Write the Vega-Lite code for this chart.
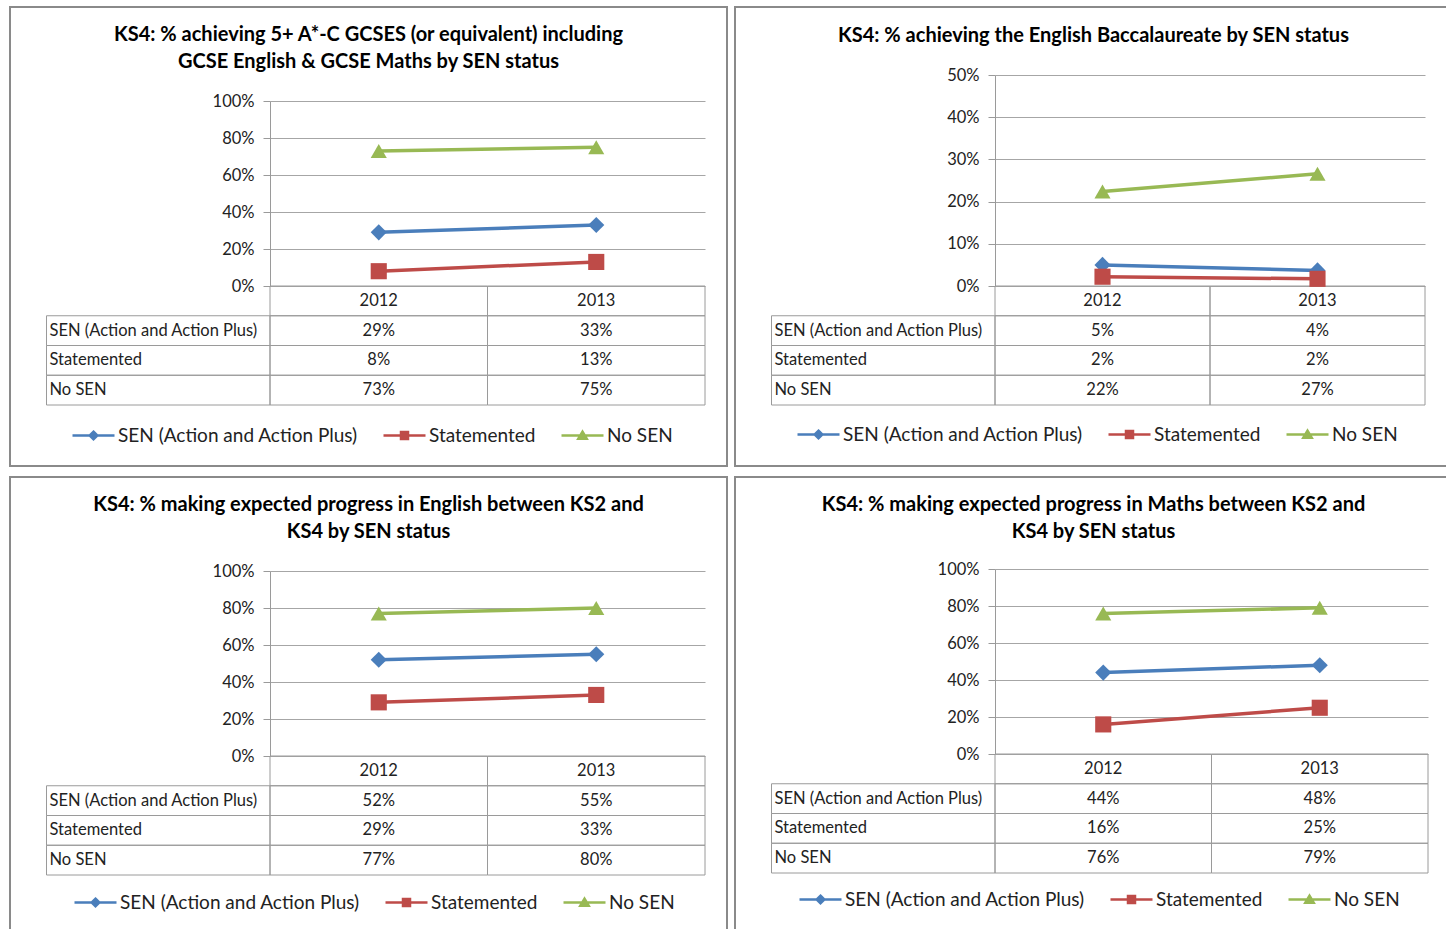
{
  "$schema": "https://vega.github.io/schema/vega-lite/v6.json",
  "background": "white",
  "padding": {"left": 9, "top": 6, "right": 0, "bottom": 0},
  "spacing": 9,
  "datasets": {
    "gcse": [
      {"series": "SEN (Action and Action Plus)", "year": "2012", "value": 0.29},
      {"series": "SEN (Action and Action Plus)", "year": "2013", "value": 0.33},
      {"series": "Statemented", "year": "2012", "value": 0.08},
      {"series": "Statemented", "year": "2013", "value": 0.13},
      {"series": "No SEN", "year": "2012", "value": 0.73},
      {"series": "No SEN", "year": "2013", "value": 0.75}
    ],
    "ebacc": [
      {"series": "SEN (Action and Action Plus)", "year": "2012", "value": 0.05},
      {"series": "SEN (Action and Action Plus)", "year": "2013", "value": 0.037},
      {"series": "Statemented", "year": "2012", "value": 0.022},
      {"series": "Statemented", "year": "2013", "value": 0.017},
      {"series": "No SEN", "year": "2012", "value": 0.224},
      {"series": "No SEN", "year": "2013", "value": 0.266}
    ],
    "eng": [
      {"series": "SEN (Action and Action Plus)", "year": "2012", "value": 0.52},
      {"series": "SEN (Action and Action Plus)", "year": "2013", "value": 0.55},
      {"series": "Statemented", "year": "2012", "value": 0.29},
      {"series": "Statemented", "year": "2013", "value": 0.33},
      {"series": "No SEN", "year": "2012", "value": 0.77},
      {"series": "No SEN", "year": "2013", "value": 0.80}
    ],
    "maths": [
      {"series": "SEN (Action and Action Plus)", "year": "2012", "value": 0.44},
      {"series": "SEN (Action and Action Plus)", "year": "2013", "value": 0.48},
      {"series": "Statemented", "year": "2012", "value": 0.16},
      {"series": "Statemented", "year": "2013", "value": 0.25},
      {"series": "No SEN", "year": "2012", "value": 0.76},
      {"series": "No SEN", "year": "2013", "value": 0.79}
    ]
  },
  "vconcat": [
    {
      "spacing": 6,
      "hconcat": [
        {
          "width": 717, "height": 459,
          "data": {"name": "gcse"},
          "title": {"text": ["KS4: % achieving 5+ A*-C GCSES (or equivalent) including", "GCSE English & GCSE Maths by SEN status"], "offset": -65},
          "resolve": {"scale": {"x": "independent", "y": "independent", "fill": "independent", "stroke": "independent", "shape": "independent", "color": "independent"}},
          "layer": [
            {
              "encoding": {
                "x": {"field": "year", "type": "nominal", "scale": {"type": "band", "domain": ["2012", "2013"], "range": [260, 695], "paddingInner": 0, "paddingOuter": 0}, "axis": null},
                "y": {"field": "series", "type": "nominal", "scale": {"type": "band", "domain": ["Year", "SEN (Action and Action Plus)", "Statemented", "No SEN"], "range": [279, 398], "paddingInner": 0, "paddingOuter": 0}, "axis": null}
              },
              "layer": [
                {"mark": {"type": "rect", "filled": false, "stroke": "#9a9a9a", "strokeWidth": 1}},
                {"mark": {"type": "text"}, "encoding": {"text": {"field": "value", "type": "quantitative", "format": ".0%"}}},
                {
                  "transform": [{"aggregate": [{"op": "count", "as": "n"}], "groupby": ["year"]}],
                  "layer": [
                    {"mark": {"type": "rect", "filled": false, "stroke": "#9a9a9a", "strokeWidth": 1}, "encoding": {"y": {"datum": "Year", "type": "nominal"}}},
                    {"mark": {"type": "text"}, "encoding": {"y": {"datum": "Year", "type": "nominal"}, "text": {"field": "year", "type": "nominal"}}}
                  ]
                }
              ]
            },
            {
              "transform": [{"aggregate": [{"op": "count", "as": "n"}], "groupby": ["series"]}],
              "encoding": {
                "x": {"datum": "label", "type": "nominal", "scale": {"type": "band", "domain": ["label"], "range": [36.5, 260], "paddingInner": 0, "paddingOuter": 0}, "axis": null},
                "y": {"field": "series", "type": "nominal", "scale": {"type": "band", "domain": ["Year", "SEN (Action and Action Plus)", "Statemented", "No SEN"], "range": [279, 398], "paddingInner": 0, "paddingOuter": 0}, "axis": null}
              },
              "layer": [
                {"mark": {"type": "rect", "filled": false, "stroke": "#9a9a9a", "strokeWidth": 1}},
                {"mark": {"type": "text", "align": "left", "dx": 3}, "encoding": {"x": {"datum": "label", "type": "nominal", "bandPosition": 0}, "text": {"field": "series", "type": "nominal"}}}
              ]
            },
            {
              "transform": [{"filter": "false"}],
              "mark": {"type": "point", "filled": true},
              "encoding": {
                "fill": {"field": "series", "type": "nominal", "scale": {"domain": ["SEN (Action and Action Plus)", "Statemented", "No SEN"], "range": ["#4a7ebb", "#be4b48", "#98b954"]}, "legend": {"orient": "none", "legendX": 60, "legendY": 419, "direction": "horizontal", "title": null}},
                "stroke": {"field": "series", "type": "nominal", "scale": {"domain": ["SEN (Action and Action Plus)", "Statemented", "No SEN"], "range": ["#4a7ebb", "#be4b48", "#98b954"]}, "legend": {"orient": "none", "legendX": 60, "legendY": 419, "direction": "horizontal", "title": null}},
                "shape": {"field": "series", "type": "nominal", "scale": {"domain": ["SEN (Action and Action Plus)", "Statemented", "No SEN"], "range": ["M-1,0H5M2,-0.55L2.55,0L2,0.55L1.45,0Z", "M-1,0H5M1.5,-0.5H2.5V0.5H1.5Z", "M-1,0H5M2,-0.55L2.6,0.45H1.4Z"]}, "legend": {"orient": "none", "legendX": 60, "legendY": 419, "direction": "horizontal", "title": null}}
              }
            },
            {
              "encoding": {
                "x": {"field": "year", "type": "nominal", "scale": {"type": "point", "domain": ["2012", "2013"], "range": [260, 695], "padding": 0.5}, "axis": null},
                "y": {"field": "value", "type": "quantitative", "scale": {"domain": [0, 1], "range": [279, 94]}, "axis": {"orient": "left", "values": [0, 0.2, 0.4, 0.6, 0.8, 1], "format": ".0%", "offset": -260, "grid": true, "title": null}},
                "color": {"field": "series", "type": "nominal", "scale": {"domain": ["SEN (Action and Action Plus)", "Statemented", "No SEN"], "range": ["#4a7ebb", "#be4b48", "#98b954"]}, "legend": null}
              },
              "layer": [
                {"mark": {"type": "line", "strokeWidth": 3.5}, "encoding": {}},
                {"mark": {"type": "point", "filled": true, "size": 260, "opacity": 1}, "encoding": {"shape": {"field": "series", "type": "nominal", "scale": {"domain": ["SEN (Action and Action Plus)", "Statemented", "No SEN"], "range": ["diamond", "square", "triangle-up"]}, "legend": null}}}
              ]
            }
          ]
        },
        {
          "width": 717, "height": 459,
          "data": {"name": "ebacc"},
          "title": {"text": "KS4: % achieving the English Baccalaureate by SEN status", "offset": -39},
          "resolve": {"scale": {"x": "independent", "y": "independent", "fill": "independent", "stroke": "independent", "shape": "independent", "color": "independent"}},
          "layer": [
            {
              "encoding": {
                "x": {"field": "year", "type": "nominal", "scale": {"type": "band", "domain": ["2012", "2013"], "range": [260, 690], "paddingInner": 0, "paddingOuter": 0}, "axis": null},
                "y": {"field": "series", "type": "nominal", "scale": {"type": "band", "domain": ["Year", "SEN (Action and Action Plus)", "Statemented", "No SEN"], "range": [279, 398], "paddingInner": 0, "paddingOuter": 0}, "axis": null}
              },
              "layer": [
                {"mark": {"type": "rect", "filled": false, "stroke": "#9a9a9a", "strokeWidth": 1}},
                {"mark": {"type": "text"}, "encoding": {"text": {"field": "value", "type": "quantitative", "format": ".0%"}}},
                {
                  "transform": [{"aggregate": [{"op": "count", "as": "n"}], "groupby": ["year"]}],
                  "layer": [
                    {"mark": {"type": "rect", "filled": false, "stroke": "#9a9a9a", "strokeWidth": 1}, "encoding": {"y": {"datum": "Year", "type": "nominal"}}},
                    {"mark": {"type": "text"}, "encoding": {"y": {"datum": "Year", "type": "nominal"}, "text": {"field": "year", "type": "nominal"}}}
                  ]
                }
              ]
            },
            {
              "transform": [{"aggregate": [{"op": "count", "as": "n"}], "groupby": ["series"]}],
              "encoding": {
                "x": {"datum": "label", "type": "nominal", "scale": {"type": "band", "domain": ["label"], "range": [36.5, 260], "paddingInner": 0, "paddingOuter": 0}, "axis": null},
                "y": {"field": "series", "type": "nominal", "scale": {"type": "band", "domain": ["Year", "SEN (Action and Action Plus)", "Statemented", "No SEN"], "range": [279, 398], "paddingInner": 0, "paddingOuter": 0}, "axis": null}
              },
              "layer": [
                {"mark": {"type": "rect", "filled": false, "stroke": "#9a9a9a", "strokeWidth": 1}},
                {"mark": {"type": "text", "align": "left", "dx": 3}, "encoding": {"x": {"datum": "label", "type": "nominal", "bandPosition": 0}, "text": {"field": "series", "type": "nominal"}}}
              ]
            },
            {
              "transform": [{"filter": "false"}],
              "mark": {"type": "point", "filled": true},
              "encoding": {
                "fill": {"field": "series", "type": "nominal", "scale": {"domain": ["SEN (Action and Action Plus)", "Statemented", "No SEN"], "range": ["#4a7ebb", "#be4b48", "#98b954"]}, "legend": {"orient": "none", "legendX": 60, "legendY": 418, "direction": "horizontal", "title": null}},
                "stroke": {"field": "series", "type": "nominal", "scale": {"domain": ["SEN (Action and Action Plus)", "Statemented", "No SEN"], "range": ["#4a7ebb", "#be4b48", "#98b954"]}, "legend": {"orient": "none", "legendX": 60, "legendY": 418, "direction": "horizontal", "title": null}},
                "shape": {"field": "series", "type": "nominal", "scale": {"domain": ["SEN (Action and Action Plus)", "Statemented", "No SEN"], "range": ["M-1,0H5M2,-0.55L2.55,0L2,0.55L1.45,0Z", "M-1,0H5M1.5,-0.5H2.5V0.5H1.5Z", "M-1,0H5M2,-0.55L2.6,0.45H1.4Z"]}, "legend": {"orient": "none", "legendX": 60, "legendY": 418, "direction": "horizontal", "title": null}}
              }
            },
            {
              "encoding": {
                "x": {"field": "year", "type": "nominal", "scale": {"type": "point", "domain": ["2012", "2013"], "range": [260, 690], "padding": 0.5}, "axis": null},
                "y": {"field": "value", "type": "quantitative", "scale": {"domain": [0, 0.5], "range": [279, 68]}, "axis": {"orient": "left", "values": [0, 0.1, 0.2, 0.3, 0.4, 0.5], "format": ".0%", "offset": -260, "grid": true, "title": null}},
                "color": {"field": "series", "type": "nominal", "scale": {"domain": ["SEN (Action and Action Plus)", "Statemented", "No SEN"], "range": ["#4a7ebb", "#be4b48", "#98b954"]}, "legend": null}
              },
              "layer": [
                {"mark": {"type": "line", "strokeWidth": 3.5}, "encoding": {}},
                {"mark": {"type": "point", "filled": true, "size": 260, "opacity": 1}, "encoding": {"shape": {"field": "series", "type": "nominal", "scale": {"domain": ["SEN (Action and Action Plus)", "Statemented", "No SEN"], "range": ["diamond", "square", "triangle-up"]}, "legend": null}}}
              ]
            }
          ]
        }
      ]
    },
    {
      "spacing": 6,
      "hconcat": [
        {
          "width": 717, "height": 459,
          "data": {"name": "eng"},
          "title": {"text": ["KS4: % making expected progress in English between KS2 and", "KS4 by SEN status"], "offset": -65},
          "resolve": {"scale": {"x": "independent", "y": "independent", "fill": "independent", "stroke": "independent", "shape": "independent", "color": "independent"}},
          "layer": [
            {
              "encoding": {
                "x": {"field": "year", "type": "nominal", "scale": {"type": "band", "domain": ["2012", "2013"], "range": [260, 695], "paddingInner": 0, "paddingOuter": 0}, "axis": null},
                "y": {"field": "series", "type": "nominal", "scale": {"type": "band", "domain": ["Year", "SEN (Action and Action Plus)", "Statemented", "No SEN"], "range": [279, 398], "paddingInner": 0, "paddingOuter": 0}, "axis": null}
              },
              "layer": [
                {"mark": {"type": "rect", "filled": false, "stroke": "#9a9a9a", "strokeWidth": 1}},
                {"mark": {"type": "text"}, "encoding": {"text": {"field": "value", "type": "quantitative", "format": ".0%"}}},
                {
                  "transform": [{"aggregate": [{"op": "count", "as": "n"}], "groupby": ["year"]}],
                  "layer": [
                    {"mark": {"type": "rect", "filled": false, "stroke": "#9a9a9a", "strokeWidth": 1}, "encoding": {"y": {"datum": "Year", "type": "nominal"}}},
                    {"mark": {"type": "text"}, "encoding": {"y": {"datum": "Year", "type": "nominal"}, "text": {"field": "year", "type": "nominal"}}}
                  ]
                }
              ]
            },
            {
              "transform": [{"aggregate": [{"op": "count", "as": "n"}], "groupby": ["series"]}],
              "encoding": {
                "x": {"datum": "label", "type": "nominal", "scale": {"type": "band", "domain": ["label"], "range": [36.5, 260], "paddingInner": 0, "paddingOuter": 0}, "axis": null},
                "y": {"field": "series", "type": "nominal", "scale": {"type": "band", "domain": ["Year", "SEN (Action and Action Plus)", "Statemented", "No SEN"], "range": [279, 398], "paddingInner": 0, "paddingOuter": 0}, "axis": null}
              },
              "layer": [
                {"mark": {"type": "rect", "filled": false, "stroke": "#9a9a9a", "strokeWidth": 1}},
                {"mark": {"type": "text", "align": "left", "dx": 3}, "encoding": {"x": {"datum": "label", "type": "nominal", "bandPosition": 0}, "text": {"field": "series", "type": "nominal"}}}
              ]
            },
            {
              "transform": [{"filter": "false"}],
              "mark": {"type": "point", "filled": true},
              "encoding": {
                "fill": {"field": "series", "type": "nominal", "scale": {"domain": ["SEN (Action and Action Plus)", "Statemented", "No SEN"], "range": ["#4a7ebb", "#be4b48", "#98b954"]}, "legend": {"orient": "none", "legendX": 62, "legendY": 416, "direction": "horizontal", "title": null}},
                "stroke": {"field": "series", "type": "nominal", "scale": {"domain": ["SEN (Action and Action Plus)", "Statemented", "No SEN"], "range": ["#4a7ebb", "#be4b48", "#98b954"]}, "legend": {"orient": "none", "legendX": 62, "legendY": 416, "direction": "horizontal", "title": null}},
                "shape": {"field": "series", "type": "nominal", "scale": {"domain": ["SEN (Action and Action Plus)", "Statemented", "No SEN"], "range": ["M-1,0H5M2,-0.55L2.55,0L2,0.55L1.45,0Z", "M-1,0H5M1.5,-0.5H2.5V0.5H1.5Z", "M-1,0H5M2,-0.55L2.6,0.45H1.4Z"]}, "legend": {"orient": "none", "legendX": 62, "legendY": 416, "direction": "horizontal", "title": null}}
              }
            },
            {
              "encoding": {
                "x": {"field": "year", "type": "nominal", "scale": {"type": "point", "domain": ["2012", "2013"], "range": [260, 695], "padding": 0.5}, "axis": null},
                "y": {"field": "value", "type": "quantitative", "scale": {"domain": [0, 1], "range": [279, 94]}, "axis": {"orient": "left", "values": [0, 0.2, 0.4, 0.6, 0.8, 1], "format": ".0%", "offset": -260, "grid": true, "title": null}},
                "color": {"field": "series", "type": "nominal", "scale": {"domain": ["SEN (Action and Action Plus)", "Statemented", "No SEN"], "range": ["#4a7ebb", "#be4b48", "#98b954"]}, "legend": null}
              },
              "layer": [
                {"mark": {"type": "line", "strokeWidth": 3.5}, "encoding": {}},
                {"mark": {"type": "point", "filled": true, "size": 260, "opacity": 1}, "encoding": {"shape": {"field": "series", "type": "nominal", "scale": {"domain": ["SEN (Action and Action Plus)", "Statemented", "No SEN"], "range": ["diamond", "square", "triangle-up"]}, "legend": null}}}
              ]
            }
          ]
        },
        {
          "width": 717, "height": 459,
          "data": {"name": "maths"},
          "title": {"text": ["KS4: % making expected progress in Maths between KS2 and", "KS4 by SEN status"], "offset": -65},
          "resolve": {"scale": {"x": "independent", "y": "independent", "fill": "independent", "stroke": "independent", "shape": "independent", "color": "independent"}},
          "layer": [
            {
              "encoding": {
                "x": {"field": "year", "type": "nominal", "scale": {"type": "band", "domain": ["2012", "2013"], "range": [260, 693], "paddingInner": 0, "paddingOuter": 0}, "axis": null},
                "y": {"field": "series", "type": "nominal", "scale": {"type": "band", "domain": ["Year", "SEN (Action and Action Plus)", "Statemented", "No SEN"], "range": [277, 396], "paddingInner": 0, "paddingOuter": 0}, "axis": null}
              },
              "layer": [
                {"mark": {"type": "rect", "filled": false, "stroke": "#9a9a9a", "strokeWidth": 1}},
                {"mark": {"type": "text"}, "encoding": {"text": {"field": "value", "type": "quantitative", "format": ".0%"}}},
                {
                  "transform": [{"aggregate": [{"op": "count", "as": "n"}], "groupby": ["year"]}],
                  "layer": [
                    {"mark": {"type": "rect", "filled": false, "stroke": "#9a9a9a", "strokeWidth": 1}, "encoding": {"y": {"datum": "Year", "type": "nominal"}}},
                    {"mark": {"type": "text"}, "encoding": {"y": {"datum": "Year", "type": "nominal"}, "text": {"field": "year", "type": "nominal"}}}
                  ]
                }
              ]
            },
            {
              "transform": [{"aggregate": [{"op": "count", "as": "n"}], "groupby": ["series"]}],
              "encoding": {
                "x": {"datum": "label", "type": "nominal", "scale": {"type": "band", "domain": ["label"], "range": [36.5, 260], "paddingInner": 0, "paddingOuter": 0}, "axis": null},
                "y": {"field": "series", "type": "nominal", "scale": {"type": "band", "domain": ["Year", "SEN (Action and Action Plus)", "Statemented", "No SEN"], "range": [277, 396], "paddingInner": 0, "paddingOuter": 0}, "axis": null}
              },
              "layer": [
                {"mark": {"type": "rect", "filled": false, "stroke": "#9a9a9a", "strokeWidth": 1}},
                {"mark": {"type": "text", "align": "left", "dx": 3}, "encoding": {"x": {"datum": "label", "type": "nominal", "bandPosition": 0}, "text": {"field": "series", "type": "nominal"}}}
              ]
            },
            {
              "transform": [{"filter": "false"}],
              "mark": {"type": "point", "filled": true},
              "encoding": {
                "fill": {"field": "series", "type": "nominal", "scale": {"domain": ["SEN (Action and Action Plus)", "Statemented", "No SEN"], "range": ["#4a7ebb", "#be4b48", "#98b954"]}, "legend": {"orient": "none", "legendX": 62, "legendY": 413, "direction": "horizontal", "title": null}},
                "stroke": {"field": "series", "type": "nominal", "scale": {"domain": ["SEN (Action and Action Plus)", "Statemented", "No SEN"], "range": ["#4a7ebb", "#be4b48", "#98b954"]}, "legend": {"orient": "none", "legendX": 62, "legendY": 413, "direction": "horizontal", "title": null}},
                "shape": {"field": "series", "type": "nominal", "scale": {"domain": ["SEN (Action and Action Plus)", "Statemented", "No SEN"], "range": ["M-1,0H5M2,-0.55L2.55,0L2,0.55L1.45,0Z", "M-1,0H5M1.5,-0.5H2.5V0.5H1.5Z", "M-1,0H5M2,-0.55L2.6,0.45H1.4Z"]}, "legend": {"orient": "none", "legendX": 62, "legendY": 413, "direction": "horizontal", "title": null}}
              }
            },
            {
              "encoding": {
                "x": {"field": "year", "type": "nominal", "scale": {"type": "point", "domain": ["2012", "2013"], "range": [260, 693], "padding": 0.5}, "axis": null},
                "y": {"field": "value", "type": "quantitative", "scale": {"domain": [0, 1], "range": [277, 92]}, "axis": {"orient": "left", "values": [0, 0.2, 0.4, 0.6, 0.8, 1], "format": ".0%", "offset": -260, "grid": true, "title": null}},
                "color": {"field": "series", "type": "nominal", "scale": {"domain": ["SEN (Action and Action Plus)", "Statemented", "No SEN"], "range": ["#4a7ebb", "#be4b48", "#98b954"]}, "legend": null}
              },
              "layer": [
                {"mark": {"type": "line", "strokeWidth": 3.5}, "encoding": {}},
                {"mark": {"type": "point", "filled": true, "size": 260, "opacity": 1}, "encoding": {"shape": {"field": "series", "type": "nominal", "scale": {"domain": ["SEN (Action and Action Plus)", "Statemented", "No SEN"], "range": ["diamond", "square", "triangle-up"]}, "legend": null}}}
              ]
            }
          ]
        }
      ]
    }
  ],
  "config": {
    "font": "Lato",
    "view": {"stroke": "#8a8a8a", "strokeWidth": 2},
    "title": {"font": "Lato", "fontSize": 20, "fontWeight": "bold", "color": "#000000", "anchor": "middle", "frame": "group", "lineHeight": 27},
    "axis": {"labelFont": "Lato", "labelFontSize": 16.5, "labelColor": "#222222", "domainColor": "#9a9a9a", "tickColor": "#9a9a9a", "gridColor": "#a6a6a6", "tickSize": 7, "labelPadding": 9},
    "legend": {"symbolSize": 196, "symbolStrokeWidth": 2.5, "labelFont": "Lato", "labelFontSize": 19, "labelColor": "#222222", "labelOffset": 29, "columnPadding": 20, "gridAlign": "none", "symbolOpacity": 1, "labelLimit": 400},
    "text": {"font": "Lato", "fontSize": 16.5, "color": "#222222"}
  }
}
